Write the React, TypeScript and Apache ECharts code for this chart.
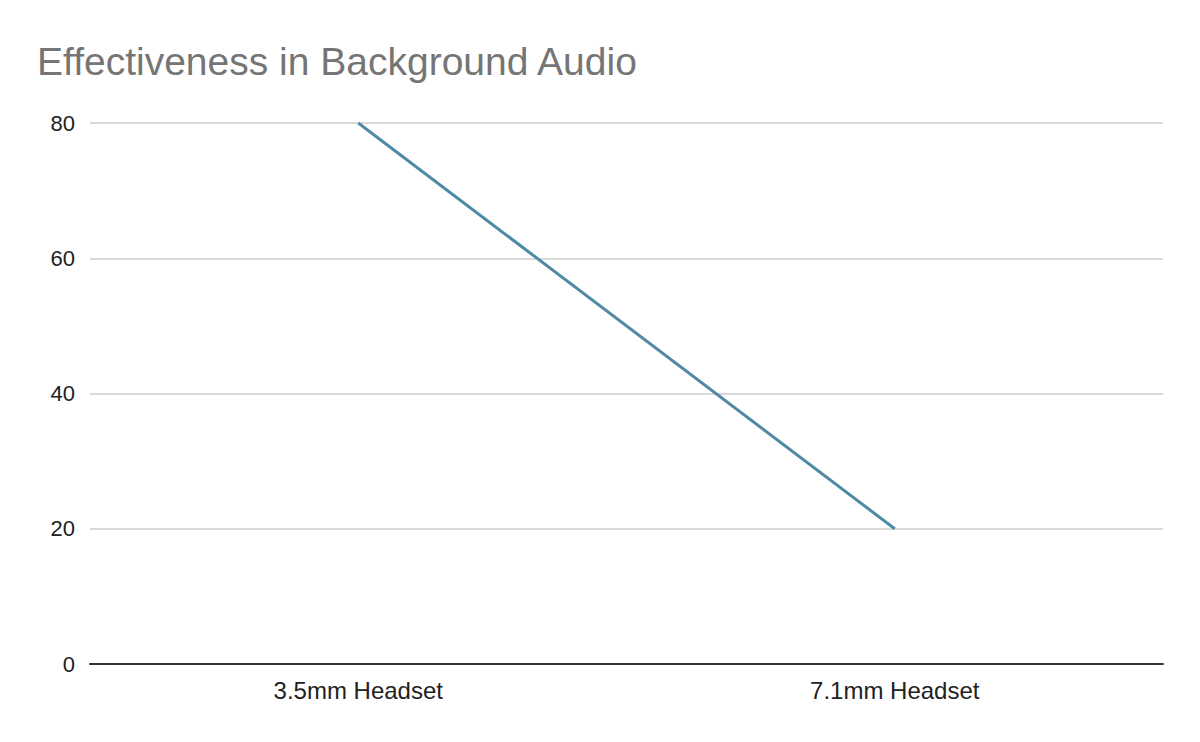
import React, { useEffect, useRef } from "react";
import * as echarts from "echarts";

const categories = ["3.5mm Headset", "7.1mm Headset"];
const values = [80, 20];
const titleText = "Effectiveness in Background Audio";
const FONT = "'Liberation Sans', Arial, sans-serif";

export default function App() {
  const ref = useRef<HTMLDivElement>(null);
  useEffect(() => {
    if (!ref.current) return;
    const chart = echarts.init(ref.current, undefined, { renderer: "svg" });
    chart.setOption({
      animation: false,
      backgroundColor: "#ffffff",
      title: {
        text: titleText,
        left: 37,
        top: 42,
        padding: 0,
        textStyle: {
          fontFamily: FONT,
          fontSize: 39,
          fontWeight: "normal",
          color: "#757575",
        },
      },
      grid: { left: 90, right: 37, top: 123, bottom: 78, containLabel: false },
      xAxis: {
        type: "category",
        data: categories,
        boundaryGap: true,
        axisLine: { show: true, lineStyle: { color: "#333333", width: 2 } },
        axisTick: { show: false },
        axisLabel: {
          color: "#222222",
          fontSize: 24,
          fontFamily: FONT,
          margin: 14,
        },
      },
      yAxis: {
        type: "value",
        min: 0,
        max: 80,
        interval: 20,
        axisLine: { show: false },
        axisTick: { show: false },
        splitLine: { show: true, lineStyle: { color: "#cccccc", width: 1.5 } },
        axisLabel: {
          color: "#222222",
          fontSize: 22,
          fontFamily: FONT,
          margin: 15,
        },
      },
      series: [
        {
          type: "line",
          data: values,
          symbol: "none",
          lineStyle: { color: "#5089a6", width: 3 },
        },
      ],
    });
    return () => chart.dispose();
  }, []);
  return <div ref={ref} style={{ width: 1200, height: 742, position: "absolute", left: 0, top: 0 }} />;
}
